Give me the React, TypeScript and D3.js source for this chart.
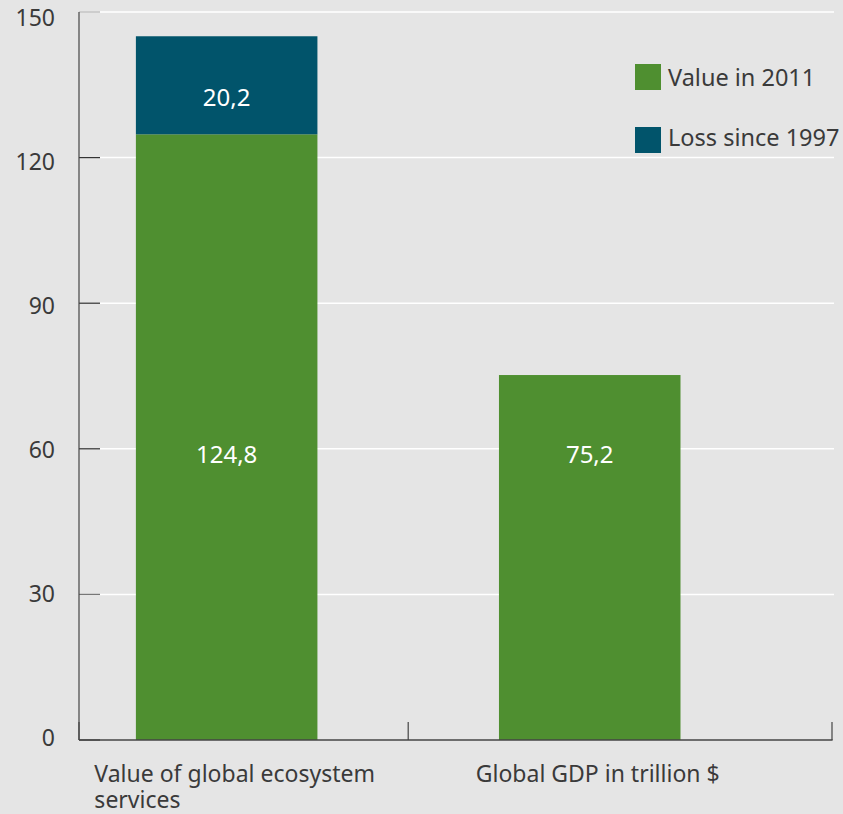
import React, { useEffect, useRef } from "react";
import * as d3 from "d3";

const categories = ["Value of global ecosystem services", "Global GDP in trillion $"];
const categoryLines = [["Value of global ecosystem", "services"], ["Global GDP in trillion $"]];
const value2011 = [124.8, 75.2];
const loss1997 = [20.2, 0];
const yTicks = [0, 30, 60, 90, 120, 150];
const seriesNames = ["Value in 2011", "Loss since 1997"];
const seriesColors = ["#4f8f30", "#01546b"];

const W = 843;
const H = 814;
const FONT = "'Noto Sans', sans-serif";

export default function App() {
  const ref = useRef<SVGSVGElement>(null);

  useEffect(() => {
    const svg = d3.select(ref.current);
    svg.selectAll("*").remove();

    const x0 = 79, x1 = 832, yTop = 12, yBot = 740;
    const y = d3.scaleLinear().domain([0, 150]).range([yBot, yTop]);
    const yLabel = y.copy().range([745.5, 26]);
    const x = d3.scaleBand<string>().domain(categories).range([x0, x1])
      .paddingInner(0.5).paddingOuter(0.287).align(0.273);

    svg.append("rect").attr("width", W).attr("height", H).attr("fill", "#e5e5e5");

    // gridlines
    svg.append("g").selectAll("line").data(yTicks.filter(d => d > 0)).join("line")
      .attr("x1", 100).attr("x2", 834)
      .attr("y1", d => y(d)).attr("y2", d => y(d))
      .attr("stroke", "#ffffff").attr("stroke-width", 1.5);

    // y ticks
    svg.append("g").selectAll("line").data(yTicks).join("line")
      .attr("x1", x0).attr("x2", 100)
      .attr("y1", d => y(d)).attr("y2", d => y(d))
      .attr("stroke", d => d === 150 ? "#bdbdbd" : d === 30 ? "#777" : "#333").attr("stroke-width", 1.2);

    svg.append("g").selectAll("text").data(yTicks).join("text")
      .attr("x", 55).attr("y", d => yLabel(d))
      .attr("text-anchor", "end")
      .attr("font-family", FONT).attr("font-size", 23).attr("fill", "#3a3a3a")
      .text(d => String(d));

    // bars
    const g = svg.append("g");
    categories.forEach((c, i) => {
      g.append("rect").attr("x", x(c)!).attr("width", x.bandwidth())
        .attr("y", y(value2011[i])).attr("height", y(0) - y(value2011[i]))
        .attr("fill", seriesColors[0]);
      if (loss1997[i] > 0) {
        g.append("rect").attr("x", x(c)!).attr("width", x.bandwidth())
          .attr("y", y(value2011[i] + loss1997[i])).attr("height", y(value2011[i]) - y(value2011[i] + loss1997[i]))
          .attr("fill", seriesColors[1]);
      }
    });

    const fmt = (v: number) => v.toFixed(1).replace(".", ",");
    const labelLevel = 57.1;
    categories.forEach((c, i) => {
      const cx = x(c)! + x.bandwidth() / 2;
      g.append("text").attr("x", cx).attr("y", y(labelLevel))
        .attr("text-anchor", "middle").attr("font-family", FONT).attr("font-size", 24)
        .attr("fill", "#ffffff").text(fmt(value2011[i]));
      if (loss1997[i] > 0) {
        const mid = (y(value2011[i]) + y(value2011[i] + loss1997[i])) / 2;
        g.append("text").attr("x", cx).attr("y", mid + 20.7)
          .attr("text-anchor", "middle").attr("font-family", FONT).attr("font-size", 24)
          .attr("fill", "#ffffff").text(fmt(loss1997[i]));
      }
    });

    // axes lines
    svg.append("line").attr("x1", x0).attr("x2", x0).attr("y1", yTop).attr("y2", yBot)
      .attr("stroke", "#444").attr("stroke-width", 1.2);
    svg.append("line").attr("x1", x0).attr("x2", x1 + 0.6).attr("y1", yBot).attr("y2", yBot)
      .attr("stroke", "#444").attr("stroke-width", 1.5);
    const xTickPos = [x0, (x(categories[0])! + x.bandwidth() + x(categories[1])!) / 2, x1];
    svg.append("g").selectAll("line").data(xTickPos).join("line")
      .attr("x1", d => d).attr("x2", d => d).attr("y1", 722).attr("y2", yBot)
      .attr("stroke", "#444").attr("stroke-width", 1.2);

    // category labels
    categories.forEach((c, i) => {
      const cx = x(c)! + x.bandwidth() / 2;
      const t = svg.append("text").attr("font-family", FONT).attr("font-size", 23).attr("fill", "#3a3a3a");
      const spans = categoryLines[i].map((l, k) => t.append("tspan").attr("y", 782 + k * 26).text(l));
      const w = d3.max(spans.map(s => (s.node() as SVGTSpanElement).getComputedTextLength())) || 0;
      spans.forEach(s => s.attr("x", cx - w / 2 + 8));
    });

    // legend
    const lg = svg.append("g");
    seriesNames.forEach((n, i) => {
      lg.append("rect").attr("x", 635).attr("y", 64 + i * 63).attr("width", 26).attr("height", 26)
        .attr("fill", seriesColors[i]);
      lg.append("text").attr("x", 668).attr("y", 86 + i * 60).attr("font-family", FONT)
        .attr("font-size", 23.5).attr("fill", "#3a3a3a").text(n);
    });
  }, []);

  return <svg ref={ref} width={W} height={H} style={{ display: "block", position: "absolute", left: 0, top: 0 }} />;
}
